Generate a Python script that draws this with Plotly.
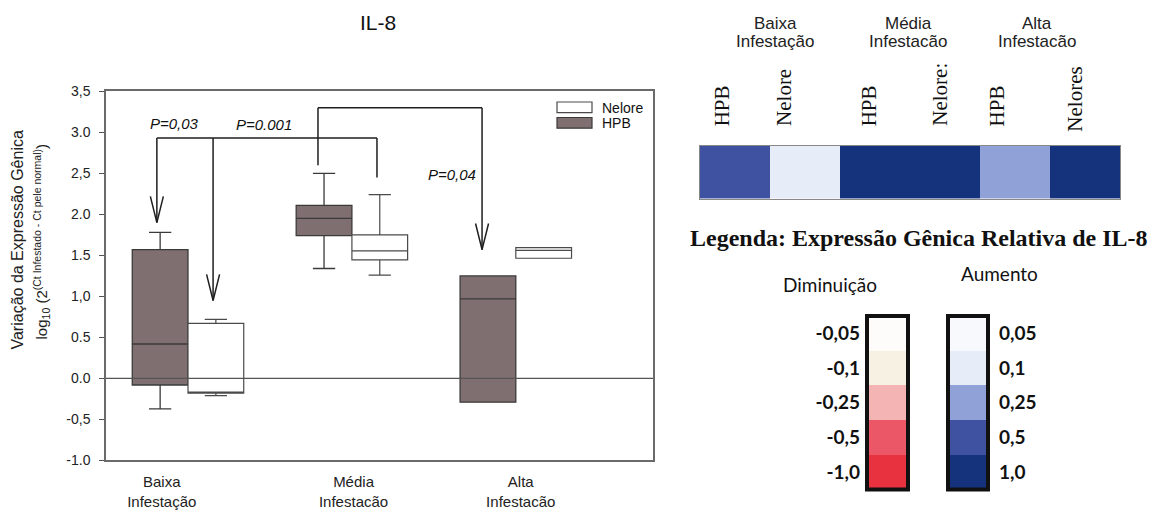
import plotly.graph_objects as go

# ---------------- data ----------------
group_labels = ["Baixa<br>Infestação", "Média<br>Infestacão", "Alta<br>Infestacão"]
group_pos = [1, 2, 3]

# HPB (log10 relative expression)
hpb_q1 = [-0.08, 1.74, -0.29]
hpb_median = [0.42, 1.95, 0.97]
hpb_q3 = [1.57, 2.11, 1.25]
hpb_low = [-0.37, 1.34, -0.29]
hpb_high = [1.78, 2.50, 1.25]

# Nelore
nel_q1 = [-0.18, 1.445, 1.465]
nel_median = [-0.18, 1.555, 1.56]
nel_q3 = [0.67, 1.75, 1.595]
nel_low = [-0.21, 1.26, 1.465]
nel_high = [0.72, 2.24, 1.595]

y_ticks = [3.5, 3.0, 2.5, 2.0, 1.5, 1.0, 0.5, 0.0, -0.5, -1.0]
y_ticktext = ["3,5", "3.0", "2,5", "2.0", "1.5", "1,0", "0.5", "0.0", "-0,5", "-1.0"]

# significance comparisons
p_labels = ["P=0,03", "P=0.001", "P=0,04"]
p_label_x = [0.915, 1.464, 2.611]
p_label_y = [3.11, 3.09, 2.48]

bracket_a_x = [0.81, 1.153, 2.153]
bracket_a_top = 2.93
bracket_a_ends = [1.90, 0.95, 2.45]
bracket_a_arrow = [True, True, False]

bracket_b_x = [1.793, 2.794]
bracket_b_top = 3.30
bracket_b_ends = [2.60, 1.57]
bracket_b_arrow = [False, True]

# heat strip
heat_columns = ["HPB", "Nelore", "HPB", "Nelore:", "HPB", "Nelores"]
heat_groups = ["Baixa<br>Infestação", "Média<br>Infestacão", "Alta<br>Infestacão"]
heat_values = [0.5, 0.1, 1.0, 1.0, 0.25, 1.0]

# colour legend
up_levels = [0.05, 0.1, 0.25, 0.5, 1.0]
up_labels = ["0,05", "0,1", "0,25", "0,5", "1,0"]
up_colors = ["#f8f9fd", "#e6ecf8", "#8fa1d7", "#3f52a1", "#15327c"]
down_levels = [-0.05, -0.1, -0.25, -0.5, -1.0]
down_labels = ["-0,05", "-0,1", "-0,25", "-0,5", "-1,0"]
down_colors = ["#fdfcfb", "#f7f1e3", "#f5b4b4", "#ec5767", "#e8323f"]

# ---------------- styling ----------------
W, H = 1155, 514
SANS = "Liberation Sans, Arial, sans-serif"
SERIF = "Liberation Serif, Times New Roman, serif"
CAL = "Lato, Open Sans, sans-serif"
HPB_FILL = "#806f70"
BOX_LINE = "#3a3a3a"
BRACKET = "#1e1e1e"

X_RANGE = [0.4997, 3.837]
Y_RANGE = [-1.0, 3.5]
px_per_x = (653 - 106) / (X_RANGE[1] - X_RANGE[0])
px_per_y = (467 - 86) / (Y_RANGE[1] - Y_RANGE[0])
head_dx = 6.5 / px_per_x
head_dy = 27 / px_per_y


def disc_scale(colors):
    n = len(colors)
    cs = []
    for i, c in enumerate(colors):
        cs.append([i / n, c])
        cs.append([(i + 1) / n, c])
    return cs


fig = go.Figure()

hpb_x = [g - 0.17 for g in group_pos]
nel_x = [g + 0.17 for g in group_pos]

fig.add_trace(go.Box(
    name="HPB", x=hpb_x, q1=hpb_q1, median=hpb_median, q3=hpb_q3,
    lowerfence=hpb_low, upperfence=hpb_high, width=0.34, whiskerwidth=0.4,
    fillcolor=HPB_FILL, line=dict(color=BOX_LINE, width=1.3),
    boxpoints=False, showlegend=False, hoverinfo="skip"))
fig.add_trace(go.Box(
    name="Nelore", x=nel_x, q1=nel_q1, median=nel_median, q3=nel_q3,
    lowerfence=nel_low, upperfence=nel_high, width=0.34, whiskerwidth=0.4,
    fillcolor="white", line=dict(color="#4a4a4a", width=1.2),
    boxpoints=False, showlegend=False, hoverinfo="skip"))


def add_bracket(xs, top, ends, arrows):
    bx, by = [], []
    for x, e in zip(xs, ends):
        bx += [x, x, None]
        by += [e, top, None]
    bx += [xs[0], xs[-1], None]
    by += [top, top, None]
    for x, e, a in zip(xs, ends, arrows):
        if a:
            bx += [x - head_dx, x, x + head_dx, None]
            by += [e + head_dy, e, e + head_dy, None]
    fig.add_trace(go.Scatter(x=bx, y=by, mode="lines",
                             line=dict(color=BRACKET, width=1.5),
                             showlegend=False, hoverinfo="skip"))


add_bracket(bracket_a_x, bracket_a_top, bracket_a_ends, bracket_a_arrow)
add_bracket(bracket_b_x, bracket_b_top, bracket_b_ends, bracket_b_arrow)

# heat strip
heat_idx = [up_levels.index(v) for v in heat_values]
fig.add_trace(go.Heatmap(
    z=[heat_idx], x=list(range(len(heat_columns))), y=[0],
    zmin=-0.5, zmax=len(up_levels) - 0.5, colorscale=disc_scale(up_colors),
    showscale=False, xaxis="x2", yaxis="y2", hoverinfo="skip"))

# colour legend bars
fig.add_trace(go.Heatmap(
    z=[[i] for i in range(len(down_levels))], x=[0], y=list(range(len(down_levels))),
    zmin=-0.5, zmax=len(down_levels) - 0.5, colorscale=disc_scale(down_colors),
    showscale=False, xaxis="x3", yaxis="y3", hoverinfo="skip"))
fig.add_trace(go.Heatmap(
    z=[[i] for i in range(len(up_levels))], x=[0], y=list(range(len(up_levels))),
    zmin=-0.5, zmax=len(up_levels) - 0.5, colorscale=disc_scale(up_colors),
    showscale=False, xaxis="x4", yaxis="y4", hoverinfo="skip"))


def px_x(p):
    return p / W


def px_y(p):
    return 1 - p / H


def note(text, x, y, size, family=SANS, xref="paper", yref="paper",
         xanchor="center", yanchor="middle", angle=0, color="#111"):
    return dict(text=text, x=x, y=y, xref=xref, yref=yref, xanchor=xanchor,
                yanchor=yanchor, textangle=angle, showarrow=False,
                font=dict(family=family, size=size, color=color))


annotations = []
annotations.append(note("IL-8", px_x(378), px_y(15), 21))
annotations.append(note("Variação da Expressão Gênica", px_x(18), px_y(240), 16,
                        angle=-90, color="#222"))
annotations.append(note("log<sub>10</sub> (2<sup>(Ct Infestado - Ct pele normal)</sup>)",
                        px_x(41), px_y(242), 15, angle=-90, color="#222"))
for t, x, y in zip(p_labels, p_label_x, p_label_y):
    annotations.append(note(f"<i>{t}</i>", x, y, 15, xref="x", yref="y"))
annotations.append(note("Nelore", px_x(600), px_y(103), 14, xanchor="left"))
annotations.append(note("HPB", px_x(600), px_y(119), 14, xanchor="left"))

# strip headers: one annotation per text line for tighter leading
for t, x in zip(heat_groups, [775, 908, 1037]):
    for line, ly in zip(t.split("<br>"), [16, 35]):
        annotations.append(note(line, px_x(x), px_y(ly), 17, color="#222"))
col_shift = [-0.19, -0.31, -0.09, -0.07, -0.26, -0.14]
col_bottom = [124, 124, 124, 124, 124, 130]
for i, (t, s, b) in enumerate(zip(heat_columns, col_shift, col_bottom)):
    annotations.append(note(t, i + s, px_y(b), 21, family=SERIF, xref="x2",
                            yanchor="bottom", angle=-90))

annotations.append(note("<b>Legenda: Expressão Gênica Relativa de IL-8</b>",
                        px_x(919), px_y(237), 24, family=SERIF))
annotations.append(note("Diminuição", px_x(830), px_y(285), 19, family=CAL))
annotations.append(note("Aumento", px_x(999), px_y(274), 19, family=CAL))

shapes = [
    # zero reference line drawn over the boxes
    dict(type="line", xref="x domain", yref="y", x0=0, x1=1, y0=0, y1=0,
         line=dict(color="#555", width=1.2), layer="above"),
    dict(type="rect", xref="paper", yref="paper", x0=px_x(557), x1=px_x(592),
         y0=px_y(108), y1=px_y(97), fillcolor="white", line=dict(color="#4a4a4a", width=1.2)),
    dict(type="rect", xref="paper", yref="paper", x0=px_x(557), x1=px_x(592),
         y0=px_y(124), y1=px_y(113), fillcolor=HPB_FILL, line=dict(color=BOX_LINE, width=1.2)),
    dict(type="rect", xref="x3 domain", yref="y3 domain", x0=0, x1=1, y0=0, y1=1,
         line=dict(color="#111", width=4)),
    dict(type="rect", xref="x4 domain", yref="y4 domain", x0=0, x1=1, y0=0, y1=1,
         line=dict(color="#111", width=4)),
]

hidden = dict(showgrid=False, zeroline=False, showticklabels=False, ticks="")

fig.update_layout(
    width=W, height=H, margin=dict(l=0, r=0, t=0, b=0),
    paper_bgcolor="white", plot_bgcolor="white", boxmode="overlay",
    showlegend=False,
    xaxis=dict(domain=[px_x(106), px_x(653)], range=X_RANGE,
               tickvals=[0.84, 2.01, 3.03], ticktext=group_labels, ticks="",
               ticklabelstandoff=7,
               showgrid=False, zeroline=False, showline=True, mirror=True,
               linecolor="#6a6a6a", linewidth=1.5,
               tickfont=dict(family=SANS, size=15, color="#222")),
    yaxis=dict(domain=[px_y(467), px_y(86)], range=Y_RANGE,
               tickvals=y_ticks, ticktext=y_ticktext, ticks="outside", ticklen=5,
               ticklabelstandoff=6,
               tickcolor="#555", showgrid=False, showline=True, mirror=True,
               linecolor="#6a6a6a", linewidth=1.5, zeroline=False,
               tickfont=dict(family=SANS, size=14, color="#222")),
    xaxis2=dict(domain=[px_x(700), px_x(1120)], range=[-0.5, len(heat_columns) - 0.5],
                anchor="y2", showline=True, mirror=True, linecolor="#888", linewidth=1, **hidden),
    yaxis2=dict(domain=[px_y(197), px_y(142)], range=[-0.5, 0.5], anchor="x2",
                showline=True, mirror=True, linecolor="#888", linewidth=1, **hidden),
    xaxis3=dict(domain=[px_x(867), px_x(908)], range=[-0.5, 0.5], anchor="y3", **hidden),
    yaxis3=dict(domain=[px_y(497), px_y(318)], range=[len(down_levels) - 0.5, -0.5], anchor="x3",
                tickvals=list(range(len(down_levels))), ticktext=down_labels, ticks="",
                showgrid=False, zeroline=False, ticklabelstandoff=6,
                tickfont=dict(family=CAL, size=19, color="#111", weight="bold")),
    xaxis4=dict(domain=[px_x(948), px_x(988)], range=[-0.5, 0.5], anchor="y4", **hidden),
    yaxis4=dict(domain=[px_y(497), px_y(318)], range=[len(up_levels) - 0.5, -0.5], anchor="x4",
                side="right", tickvals=list(range(len(up_levels))), ticktext=up_labels, ticks="",
                showgrid=False, zeroline=False, ticklabelstandoff=10,
                tickfont=dict(family=CAL, size=19, color="#111", weight="bold")),
    annotations=annotations, shapes=shapes,
)

fig.write_html("out.html")
